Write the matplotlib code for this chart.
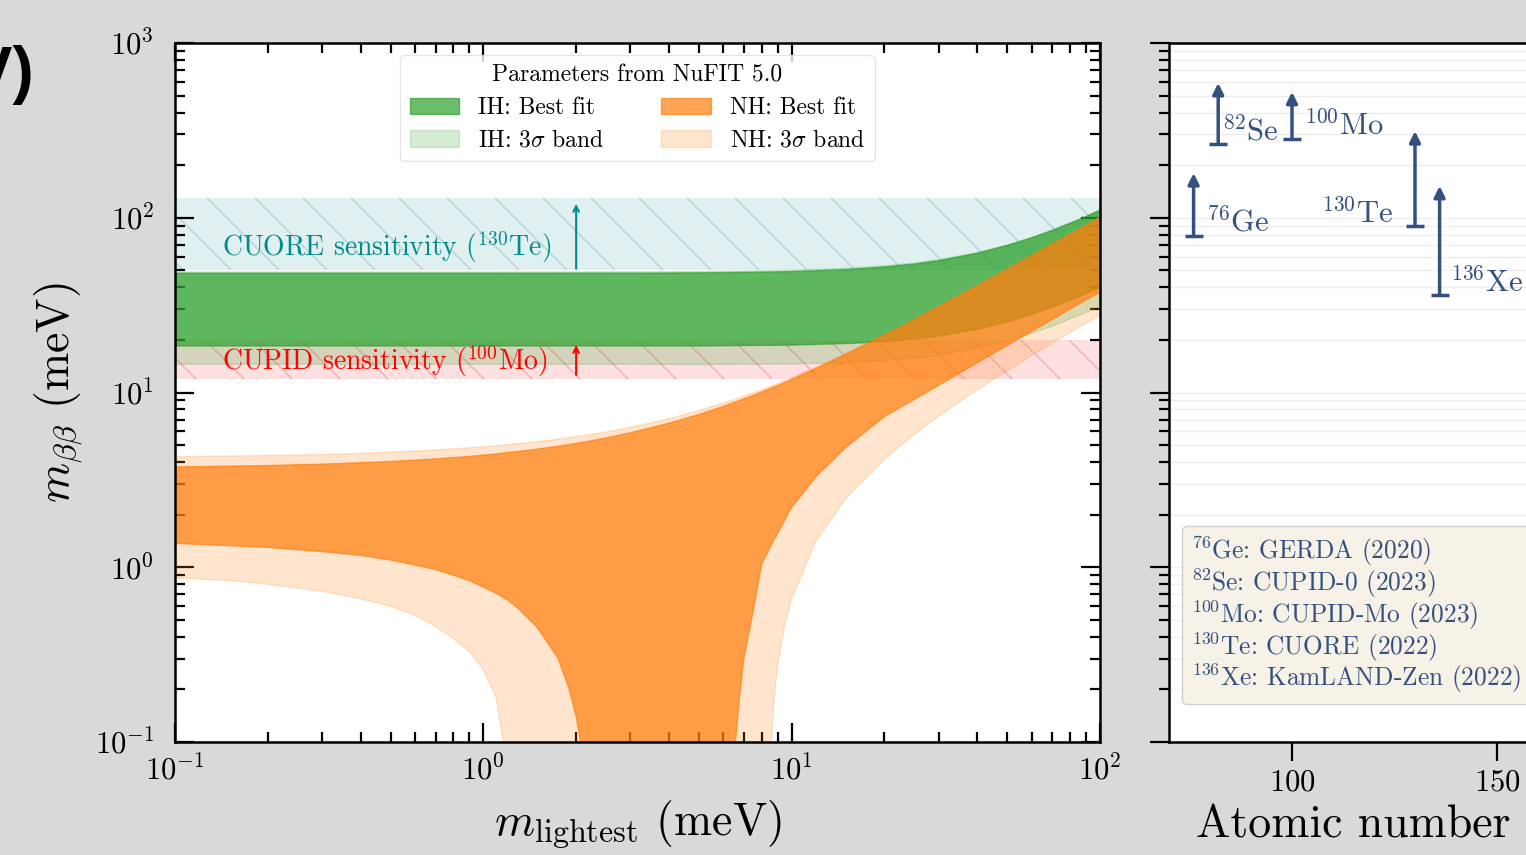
import numpy as np
import matplotlib
matplotlib.use("Agg")
import matplotlib.pyplot as plt
from matplotlib.patches import Patch
from matplotlib.lines import Line2D

plt.rcParams['font.family'] = 'serif'
plt.rcParams['font.serif'] = ['cmr10']
plt.rcParams['mathtext.fontset'] = 'cm'
plt.rcParams['axes.formatter.use_mathtext'] = True

# --- effective mass bands (meV) ---
# normal hierarchy, lightest = m1
nh_m = [0.1, 0.15, 0.2, 0.3, 0.4, 0.5, 0.6, 0.7, 0.8, 0.9,
        1.0, 1.1, 1.2, 1.3, 1.5, 1.75, 1.9, 2.0, 2.05, 2.1,
        2.2, 2.5, 3.0, 4.0, 5.0, 6.0, 6.5, 6.75, 7.0, 7.5,
        8.0, 8.5, 8.75, 9.0, 9.5, 10, 12, 15, 20, 25,
        30, 40, 50, 60, 70, 85, 100]
nh_best_hi = [3.75, 3.79, 3.82, 3.89, 3.96, 4.03, 4.10, 4.17, 4.24, 4.31,
              4.38, 4.45, 4.53, 4.60, 4.74, 4.93, 5.04, 5.11, 5.15, 5.19,
              5.26, 5.49, 5.88, 6.67, 7.48, 8.33, 8.76, 8.98, 9.20, 9.63,
              10.08, 10.52, 10.75, 10.97, 11.42, 11.87, 13.71, 16.52, 21.29, 26.13,
              31.0, 40.8, 50.7, 60.6, 70.5, 85.4, 100.4]
nh_best_lo = [1.37, 1.33, 1.30, 1.23, 1.17, 1.10, 1.03, 0.97, 0.90, 0.84,
              0.77, 0.71, 0.65, 0.58, 0.45, 0.30, 0.20, 0.14, 0.11, 0.08,
              0.02, 0.001, 0.001, 0.001, 0.001, 0.001, 0.08, 0.17, 0.30, 0.56,
              1.05, 1.29, 1.43, 1.56, 1.87, 2.20, 3.30, 4.86, 7.28, 9.14,
              11.0, 14.8, 18.6, 22.4, 26.2, 32.0, 37.5]
nh_3s_hi = [4.29, 4.33, 4.36, 4.42, 4.49, 4.56, 4.62, 4.69, 4.76, 4.82,
            4.89, 4.96, 5.03, 5.09, 5.23, 5.41, 5.52, 5.59, 5.62, 5.66,
            5.73, 5.95, 6.32, 7.08, 7.88, 8.69, 9.11, 9.32, 9.54, 9.96,
            10.39, 10.83, 11.05, 11.27, 11.71, 12.16, 13.97, 16.75, 21.48, 26.29,
            31.14, 40.93, 50.78, 60.67, 70.59, 85.49, 100.44]
nh_3s_lo = [0.87, 0.84, 0.80, 0.73, 0.66, 0.60, 0.53, 0.46, 0.39, 0.33,
            0.26, 0.18, 0.07, 0.001, 0.001, 0.001, 0.001, 0.001, 0.001, 0.001,
            0.001, 0.001, 0.001, 0.001, 0.001, 0.001, 0.001, 0.001, 0.001, 0.001,
            0.001, 0.07, 0.17, 0.27, 0.47, 0.66, 1.42, 2.48, 4.16, 5.77,
            7.32, 10.4, 13.3, 16.3, 19.2, 23.5, 27.8]

# inverted hierarchy, lightest = m3
ih_m = [0.1, 1, 3, 5, 7, 10, 15, 20, 25, 30, 40, 50, 60, 70, 85, 100]
ih_best_hi = [48.4, 48.4, 48.5, 48.7, 49.0, 49.5, 50.8, 52.6, 54.7, 57.2, 63.1, 69.9, 77.3, 85.3, 98.0, 111.3]
ih_best_lo = [18.6, 18.6, 18.6, 18.6, 18.7, 18.8, 19.2, 19.7, 20.4, 21.2, 23.2, 25.6, 28.2, 31.1, 35.6, 40.3]
ih_3s_hi = [49.3, 49.3, 49.4, 49.6, 49.9, 50.4, 51.7, 53.4, 55.5, 58.0, 63.8, 70.5, 77.9, 85.9, 98.5, 111.7]
ih_3s_lo = [14.6, 14.6, 14.6, 14.55, 14.6, 14.66, 14.9, 15.3, 15.9, 16.5, 18.1, 19.9, 22.0, 24.2, 27.8, 31.5]

# experimental sensitivity bands (meV)
cuore_band = [50, 130]
cupid_band = [12, 20]
cuore_arrow = [51, 120]
cupid_arrow = [12.6, 18.7]

# limits per isotope (meV)
isotopes = ['$^{76}$Ge', '$^{82}$Se', '$^{100}$Mo', '$^{130}$Te', '$^{136}$Xe']
mass_number = [76, 82, 100, 130, 136]
limit_lo = [79, 263, 281, 90, 36]
limit_hi = [180, 590, 525, 313, 152]
experiments = ['GERDA (2020)', 'CUPID-0 (2023)', 'CUPID-Mo (2023)', 'CUORE (2022)', 'KamLAND-Zen (2022)']

navy = '#33507f'
green = '#2ca02c'
orange = '#ff7f0e'
W, H = 1526, 855


def add_hatch(ax, poly, color, ax_w, ax_h, step=48):
    # sparse '\' hatch lines clipped to a band
    for s in np.arange(-ax_h, ax_w + step, step):
        ln, = ax.plot([s / ax_w, (s + ax_h) / ax_w], [1, 0], transform=ax.transAxes,
                      color=color, lw=0.8, alpha=0.3, zorder=1.5)
        ln.set_clip_path(poly.get_paths()[0], poly.get_transform())


fig = plt.figure(figsize=(W / 100, H / 100), dpi=100, facecolor='#d9d9d9')
ax = fig.add_axes([175 / W, 113 / H, 925 / W, 699 / H])
ax2 = fig.add_axes([1169 / W, 113 / H, 369 / W, 699 / H])

# left panel
ax.set_xscale('log')
ax.set_yscale('log')
ax.set_xlim(0.1, 100)
ax.set_ylim(0.1, 1000)

p1 = ax.fill_between([0.1, 100], cuore_band[0], cuore_band[1], color='darkcyan', alpha=0.12, lw=0, zorder=1)
p2 = ax.fill_between([0.1, 100], cupid_band[0], cupid_band[1], color='red', alpha=0.12, lw=0, zorder=1)
add_hatch(ax, p1, 'darkcyan', 925, 699)
add_hatch(ax, p2, 'red', 925, 699)

ax.fill_between(ih_m, ih_3s_lo, ih_3s_hi, color=green, alpha=0.2, zorder=2)
ax.fill_between(ih_m, ih_best_lo, ih_best_hi, color=green, alpha=0.7, zorder=2)
ax.fill_between(nh_m, nh_3s_lo, nh_3s_hi, color=orange, alpha=0.2, zorder=2)
ax.fill_between(nh_m, nh_best_lo, nh_best_hi, color=orange, alpha=0.7, zorder=2)

ax.text(0.142, 68, 'CUORE sensitivity ($^{130}$Te)', color='darkcyan', fontsize=20, va='center', zorder=4)
ax.text(0.142, 15.1, 'CUPID sensitivity ($^{100}$Mo)', color='red', fontsize=20, va='center', zorder=4)
ax.annotate('', xy=(2.0, cuore_arrow[1]), xytext=(2.0, cuore_arrow[0]),
            arrowprops=dict(arrowstyle='->', color='darkcyan', lw=1.5, shrinkA=0, shrinkB=0), zorder=4)
ax.annotate('', xy=(2.0, cupid_arrow[1]), xytext=(2.0, cupid_arrow[0]),
            arrowprops=dict(arrowstyle='->', color='red', lw=1.5, shrinkA=0, shrinkB=0), zorder=4)

handles = [Patch(facecolor=green, edgecolor=green, alpha=0.7, label='IH: Best fit'),
           Patch(facecolor=green, edgecolor=green, alpha=0.2, label=r'IH: 3$\sigma$ band'),
           Patch(facecolor=orange, edgecolor=orange, alpha=0.7, label='NH: Best fit'),
           Patch(facecolor=orange, edgecolor=orange, alpha=0.2, label=r'NH: 3$\sigma$ band')]
leg = ax.legend(handles=handles, ncol=2, loc='upper center', fontsize=17, title='Parameters from NuFIT 5.0',
                title_fontsize=17, columnspacing=2.4, handlelength=2.1, borderaxespad=0.5,
                labelspacing=0.45)
leg.get_frame().set_edgecolor('#e0e0e0')
leg.set_zorder(5)

ax.set_xlabel(r'$m_\mathrm{lightest}$ (meV)', fontsize=33, labelpad=9)
ax.set_ylabel(r'$m_{\beta\beta}$ (meV)', fontsize=33, labelpad=6)
ax.tick_params(which='both', direction='in', top=True, right=True, width=1.6)
ax.tick_params(which='major', length=13.5)
ax.tick_params(which='minor', length=7)
ax.tick_params(axis='x', labelsize=22, pad=9)
ax.tick_params(axis='y', labelsize=22, pad=15)
for sp in ax.spines.values():
    sp.set_linewidth(1.8)

# right panel
ax2.set_yscale('log')
ax2.set_ylim(0.1, 1000)
ax2.set_xlim(70, 160)
ax2.set_xticks([100, 150])
ax2.grid(True, which='both', axis='y', color='#ececec', lw=1)
ax2.tick_params(which='both', direction='out', width=1.6, labelleft=False)
ax2.tick_params(which='major', length=13.5)
ax2.tick_params(which='minor', length=7)
ax2.tick_params(axis='x', labelsize=22, pad=6)
for sp in ax2.spines.values():
    sp.set_linewidth(1.8)
ax2.set_xlabel('Atomic number', fontsize=33, labelpad=6)

label_pos = [(79.0, 95, 'left'), (82.9, 314, 'left'), (103.0, 340, 'left'),
             (124.6, 106, 'right'), (138.5, 43, 'left')]
for a, lo, hi, name, (tx, ty, ha) in zip(mass_number, limit_lo, limit_hi, isotopes, label_pos):
    ax2.annotate('', xy=(a, hi), xytext=(a, lo),
                 arrowprops=dict(arrowstyle='-|>', color=navy, lw=2.5, mutation_scale=16,
                                 shrinkA=0, shrinkB=0))
    ax2.plot([a], [lo], marker='_', ms=13, mew=2.5, color=navy)
    ax2.text(tx, ty, name, color=navy, fontsize=22, ha=ha, va='center')

box_labels = [f'{iso}: {exp}' for iso, exp in zip(isotopes, experiments)]
blank = [Line2D([], [], ls='none') for _ in box_labels]
leg2 = ax2.legend(blank, box_labels, loc='lower left', bbox_to_anchor=(0.035, 0.054), borderaxespad=0,
                  handlelength=0, handletextpad=0, fontsize=18.3, labelcolor=navy, labelspacing=-0.06,
                  borderpad=0.35, fancybox=True, framealpha=0.85, facecolor='#f6f0e4', edgecolor='#c8c8c8')

fig.text(34 / W, 1 - 75 / H, 'IV)', fontsize=46, fontweight='bold', family='Liberation Sans',
         ha='right', va='center')

fig.savefig('out.png', dpi=100, facecolor=fig.get_facecolor())
